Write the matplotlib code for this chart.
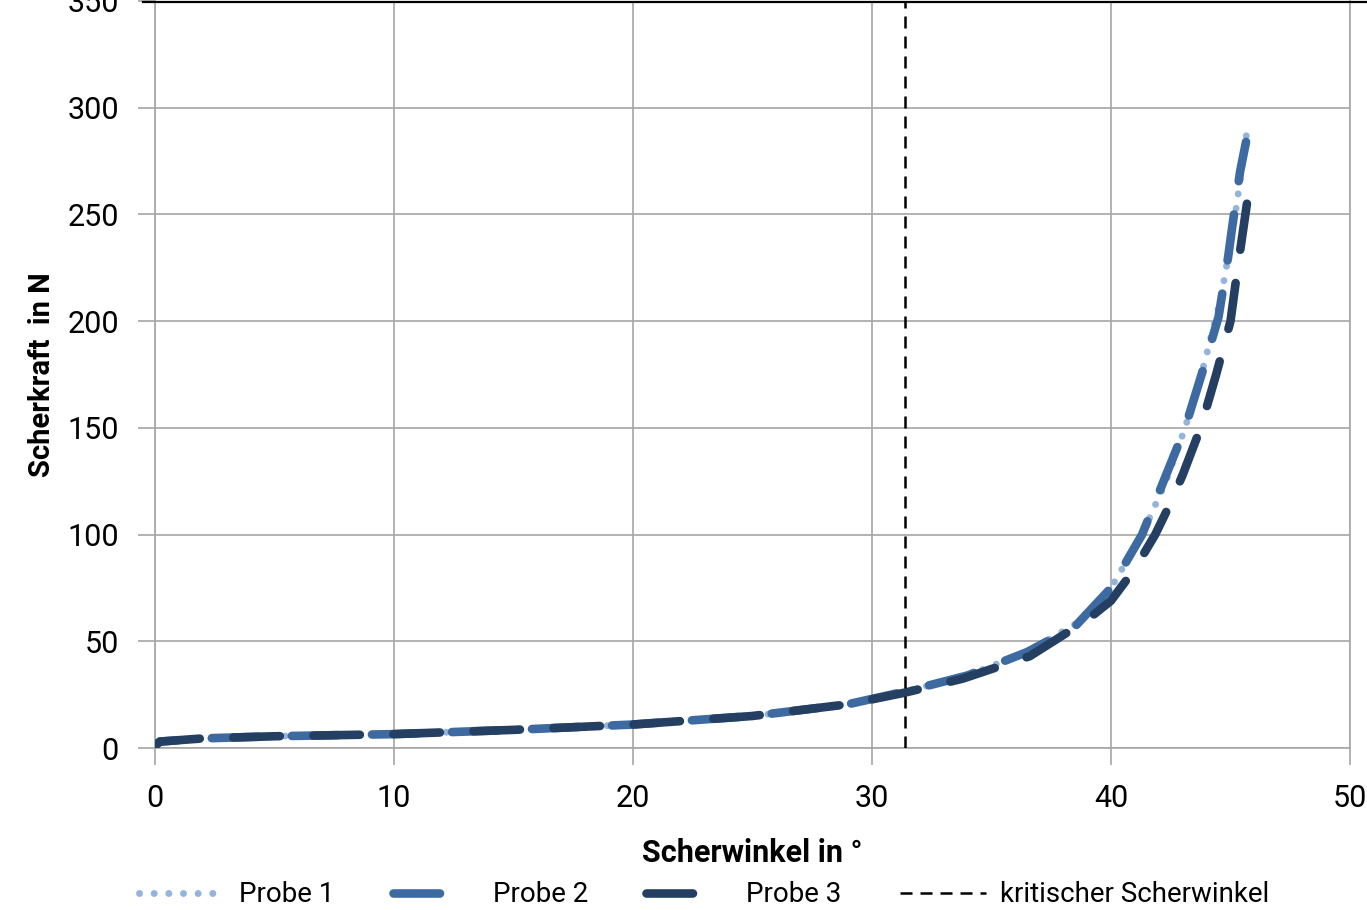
import numpy as np
import matplotlib
matplotlib.use("Agg")
from matplotlib import pyplot as plt
from matplotlib import font_manager
from matplotlib.lines import Line2D

# pick a narrow font if there is one
names = {f.name for f in font_manager.fontManager.ttflist}
fam = "Liberation Sans Narrow" if "Liberation Sans Narrow" in names else "Roboto"
plt.rcParams["font.family"] = [fam, "DejaVu Sans"]

# Scherwinkel (deg) / Scherkraft (N)
p1_x = [0, 0.2, 2, 5, 10, 15, 20, 25, 29, 31.4, 34, 36.5, 38.5, 39.4, 40, 41.3, 42.3, 43.1, 43.9, 44.6, 44.9, 45.2, 45.45, 45.7]
p1_y = [1, 3, 4.5, 5.5, 6.5, 8.5, 11, 15, 20.5, 26.5, 34, 45, 58, 68, 75, 100, 125, 150, 180, 211, 230, 250, 270, 290]

p2_x = [0, 0.2, 2, 5, 10, 15, 20, 25, 29, 31.4, 34, 36.5, 38.5, 40, 41.3, 42.2, 43.1, 43.9, 44.5, 44.9, 45.07, 45.4, 45.65]
p2_y = [1, 3, 4.5, 5.5, 6.5, 8.5, 11, 15, 20.5, 26.5, 34, 45, 57, 75, 100, 125, 150, 179, 202, 230, 244, 270, 284]

p3_x = [0, 0.2, 2, 5, 10, 15, 20, 25, 29, 31.4, 33.8, 36.6, 39, 40, 41, 41.85, 42.5, 43, 43.75, 44.4, 45, 45.3, 45.7]
p3_y = [1, 3, 4.5, 5.5, 6.5, 8.5, 11, 15, 20.5, 26, 32.5, 43, 60, 69, 84, 100, 115, 128, 150, 175, 200, 225, 256]

crit_angle = 31.4

series_labels = ["Probe 1", "Probe 2", "Probe 3", "kritischer Scherwinkel"]
x_label = "Scherwinkel in °"
y_label = "Scherkraft  in N"

c1, c2, c3 = "#93b4dc", "#3c6aa1", "#243f61"
grid_c = "#a6a6a6"

fig = plt.figure(figsize=(13.67, 9.10), dpi=100)
ax = fig.add_axes([155 / 1367, 162 / 910, 1195 / 1367, 747 / 910])

dots = (0, (0.01, 2.1))
ax.plot(p1_x, p1_y, color=c1, lw=5, ls=dots, dash_capstyle="round", zorder=3)
ax.plot(p2_x, p2_y, color=c2, lw=6.2, ls=(2.5, (5.4, 3.9)), dash_capstyle="round", zorder=4)
ax.plot(p3_x, p3_y, color=c3, lw=6.2, ls=(0, (5.4, 3.9)), dash_capstyle="round", zorder=5)
ax.axvline(crit_angle, color="black", lw=1.8, ls=(0, (4.8, 3.2)), zorder=6)

ax.set_xlim(0, 50)
ax.set_ylim(0, 350)
ax.set_xticks(range(0, 51, 10))
ax.set_yticks(range(0, 351, 50))
ax.grid(True, color=grid_c, lw=1.2)
ax.set_axisbelow(True)
for s in ax.spines.values():
    s.set_color(grid_c)
    s.set_linewidth(1.2)
ax.spines["top"].set_visible(False)
ax.tick_params(length=12, width=1.2, color=grid_c, labelsize=22, pad=14)
ax.set_xlabel(x_label, fontsize=22, fontweight="bold", labelpad=18)
ax.set_ylabel(y_label, fontsize=21, fontweight="bold", labelpad=8)

# black line along the top edge
fig.add_artist(Line2D([143 / 1367, 1.0], [908 / 910, 908 / 910], color="black", lw=1.6))

handles = [
    Line2D([], [], color=c1, lw=5, ls=dots, dash_capstyle="round"),
    Line2D([], [], color=c2, lw=6.2, ls=(0, (5.4, 30)), dash_capstyle="round"),
    Line2D([], [], color=c3, lw=6.2, ls=(0, (5.4, 30)), dash_capstyle="round"),
    Line2D([], [], color="black", lw=1.8, ls=(0, (4.8, 3.2))),
]
fig.legend(handles, series_labels, loc="center", bbox_to_anchor=(0.515, 15 / 910), ncol=4,
           frameon=False, fontsize=20, handlelength=3.1, handletextpad=0.5,
           columnspacing=2.1)

fig.savefig("out.png", dpi=100)
